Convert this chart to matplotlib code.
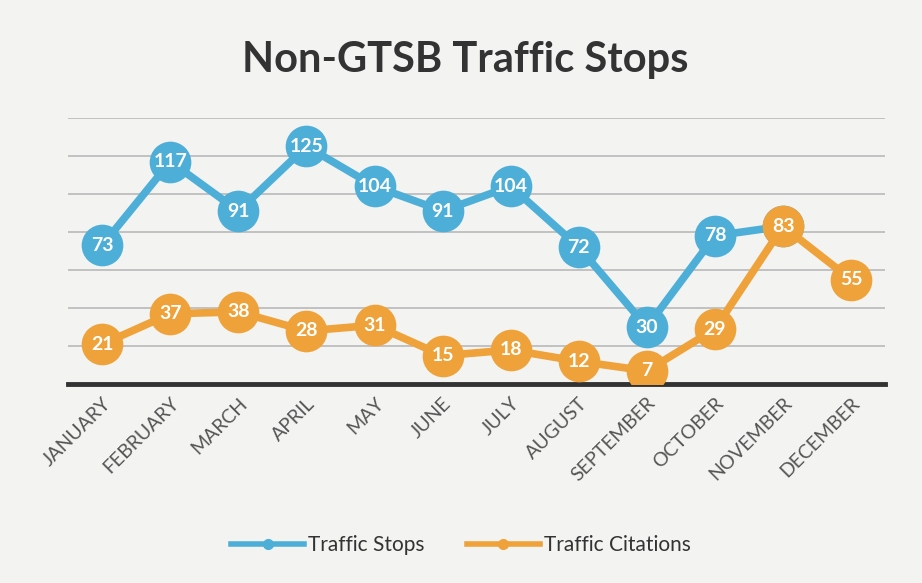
import matplotlib
matplotlib.use("Agg")
import matplotlib.pyplot as plt
import numpy as np
from matplotlib.lines import Line2D

months = ["JANUARY", "FEBRUARY", "MARCH", "APRIL", "MAY", "JUNE", "JULY",
          "AUGUST", "SEPTEMBER", "OCTOBER", "NOVEMBER", "DECEMBER"]
stops = [73, 117, 91, 125, 104, 91, 104, 72, 30, 78, 83, None]
citations = [21, 37, 38, 28, 31, 15, 18, 12, 7, 29, 83, 55]
stop_labels = [73, 117, 91, 125, 104, 91, 104, 72, 30, 78, None, None]

plt.rcParams['font.family'] = ['Lato', 'DejaVu Sans']

blue = "#4DAFD8"
orange = "#EFA23A"

fig = plt.figure(figsize=(9.22, 5.83), dpi=100)
fig.patch.set_facecolor("#F3F3F1")
ax = fig.add_axes([0.074, 0.341, 0.886, 0.457])
ax.patch.set_alpha(0.0)

x = np.arange(len(months))
sx = [i for i, v in enumerate(stops) if v is not None]
sv = [v for v in stops if v is not None]

ax.plot(sx, sv, color=blue, lw=5.5, marker="o", markersize=30,
        markeredgewidth=0, zorder=3, label="Traffic Stops")
ax.plot(x, citations, color=orange, lw=5.5, marker="o", markersize=30,
        markeredgewidth=0, zorder=4, label="Traffic Citations")

for i, v in enumerate(stop_labels):
    if v is not None:
        ax.text(i, stops[i], str(v), color="white", ha="center", va="center",
                fontsize=14, fontweight="bold", zorder=5)
for i, v in enumerate(citations):
    ax.text(i, v, str(v), color="white", ha="center", va="center",
            fontsize=14, fontweight="bold", zorder=6)

ax.set_xlim(-0.5, 11.5)
ax.set_ylim(0, 140)
ax.set_yticks(np.arange(20, 141, 20))
ax.yaxis.grid(True, color="#BDBDBD", lw=1.3)
ax.set_axisbelow(True)
ax.tick_params(axis="y", left=False, labelleft=False)
ax.tick_params(axis="x", bottom=False, pad=4)
ax.set_xticks(x)
ax.set_xticklabels(months, rotation=45, ha="right", rotation_mode="anchor",
                   fontsize=14, color="#555555")
for s in ["left", "right", "top"]:
    ax.spines[s].set_visible(False)
ax.spines["bottom"].set_color("#333333")
ax.spines["bottom"].set_linewidth(3.5)

fig.text(0.505, 0.897, "Non-GTSB Traffic Stops", ha="center", va="center",
         fontsize=30, fontweight="bold", color="#333333")

handles = [Line2D([0], [0], color=blue, lw=4, marker="o", markersize=7),
           Line2D([0], [0], color=orange, lw=4, marker="o", markersize=7)]
fig.legend(handles, ["Traffic Stops", "Traffic Citations"], loc="center",
           bbox_to_anchor=(0.5, 0.065), ncol=2, frameon=False, fontsize=15,
           handlelength=3.5, columnspacing=2.0, handletextpad=0.2,
           labelcolor="#333333")

fig.savefig("out.png", dpi=100, facecolor=fig.get_facecolor())
